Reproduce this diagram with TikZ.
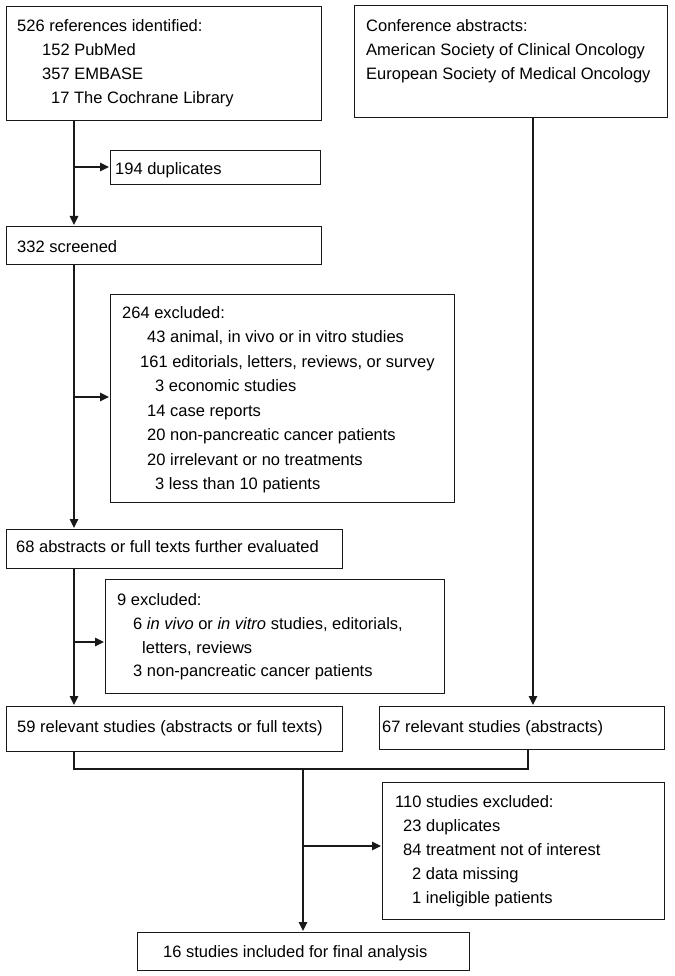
\documentclass[tikz,border=0pt]{standalone}
\usepackage{fontspec}
\setmainfont{Liberation Sans}
\usetikzlibrary{arrows.meta,calc}
\begin{document}
\begin{tikzpicture}[x=1pt,y=-1pt,
  box/.style={draw=black!90, line width=1.3pt, rectangle, inner sep=0pt, anchor=north west},
  txt/.style={inner sep=0pt, anchor=base west, font=\fontsize{16.5}{20}\selectfont},
  arr/.style={draw=black!90, line width=1.3pt, -{Triangle[length=9pt,width=8.5pt]}, shorten >=1pt},
  ln/.style={draw=black!90, line width=1.3pt}]
\useasboundingbox (0,0) rectangle (674,976);

% boxes
\node[box, minimum width=315pt, minimum height=114pt] (b1) at (6,6) {};
\node[box, minimum width=313pt, minimum height=112pt] (conf) at (354,5) {};
\node[box, minimum width=210pt, minimum height=34pt] (dup) at (110,150) {};
\node[box, minimum width=315pt, minimum height=38pt] (b332) at (6,226) {};
\node[box, minimum width=344pt, minimum height=208pt] (ex264) at (110,294) {};
\node[box, minimum width=336pt, minimum height=39pt] (b68) at (6,529) {};
\node[box, minimum width=339pt, minimum height=114pt] (ex9) at (105,579) {};
\node[box, minimum width=336pt, minimum height=45pt] (b59) at (6,706) {};
\node[box, minimum width=285pt, minimum height=43pt] (b67) at (379,706) {};
\node[box, minimum width=282pt, minimum height=137pt] (ex110) at (382,782) {};
\node[box, minimum width=332pt, minimum height=38pt] (b16) at (137,932) {};

% texts
\node[txt] (t1a) at (17,31.5) {526 references identified:};
\node[txt] (t1b) at (42,55.5) {152 PubMed};
\node[txt] (t1c) at (42,79.5) {357 EMBASE};
\node[txt] (t1d) at (51,103.5) {17 The Cochrane Library};

\node[txt] (tca) at (366,31.5) {Conference abstracts:};
\node[txt] (tcb) at (366,55.5) {American Society of Clinical Oncology};
\node[txt] (tcc) at (366,79.5) {European Society of Medical Oncology};

\node[txt] (tdup) at (115,175) {194 duplicates};
\node[txt] (t332) at (17,252) {332 screened};

\node[txt] (te1) at (122,318) {264 excluded:};
\node[txt] (te2) at (147,342.5) {43 animal, in vivo or in vitro studies};
\node[txt] (te3) at (140,367) {161 editorials, letters, reviews, or survey};
\node[txt] (te4) at (155,391.5) {3 economic studies};
\node[txt] (te5) at (147,416) {14 case reports};
\node[txt] (te6) at (147,440.5) {20 non-pancreatic cancer patients};
\node[txt] (te7) at (147,465) {20 irrelevant or no treatments};
\node[txt] (te8) at (155,489.5) {3 less than 10 patients};

\node[txt] (t68) at (16,552) {68 abstracts or full texts further evaluated};

\node[txt] (tn1) at (117,605) {9 excluded:};
\node[txt] (tn2) at (133,629) {6 \textit{in vivo} or \textit{in vitro} studies, editorials,};
\node[txt] (tn3) at (142,653) {letters, reviews};
\node[txt] (tn4) at (133,676) {3 non-pancreatic cancer patients};

\node[txt] (t59) at (17,732) {59 relevant studies (abstracts or full texts)};
\node[txt] (t67) at (382,732) {67 relevant studies (abstracts)};

\node[txt] (tx1) at (395,807) {110 studies excluded:};
\node[txt] (tx2) at (403,831) {23 duplicates};
\node[txt] (tx3) at (403,855) {84 treatment not of interest};
\node[txt] (tx4) at (412,879) {2 data missing};
\node[txt] (tx5) at (412,903) {1 ineligible patients};

\node[txt] (t16) at (163,957) {16 studies included for final analysis};

% connectors
\coordinate (tA) at (74,0);
\coordinate (tC) at (533,0);
\coordinate (j1) at (74,167);
\coordinate (j2) at (74,397);
\coordinate (j3) at (74,642);
\coordinate (m1) at (74,769);
\coordinate (m2) at (528,769);
\coordinate (m3) at (303,769);
\coordinate (j5) at (303,846);

\draw[arr] (b1.south -| tA) -- (b332.north -| tA);
\draw[arr] (j1) -- (dup.west |- j1);
\draw[arr] (b332.south -| tA) -- (b68.north -| tA);
\draw[arr] (j2) -- (ex264.west |- j2);
\draw[arr] (b68.south -| tA) -- (b59.north -| tA);
\draw[arr] (j3) -- (ex9.west |- j3);
\draw[arr] (conf.south -| tC) -- (b67.north -| tC);
\draw[ln] (b59.south -| m1) -- (m1) -- (m2) -- (b67.south -| m2);
\draw[arr] (m3) -- (b16.north -| m3);
\draw[arr] (j5) -- (ex110.west |- j5);
\end{tikzpicture}
\end{document}
